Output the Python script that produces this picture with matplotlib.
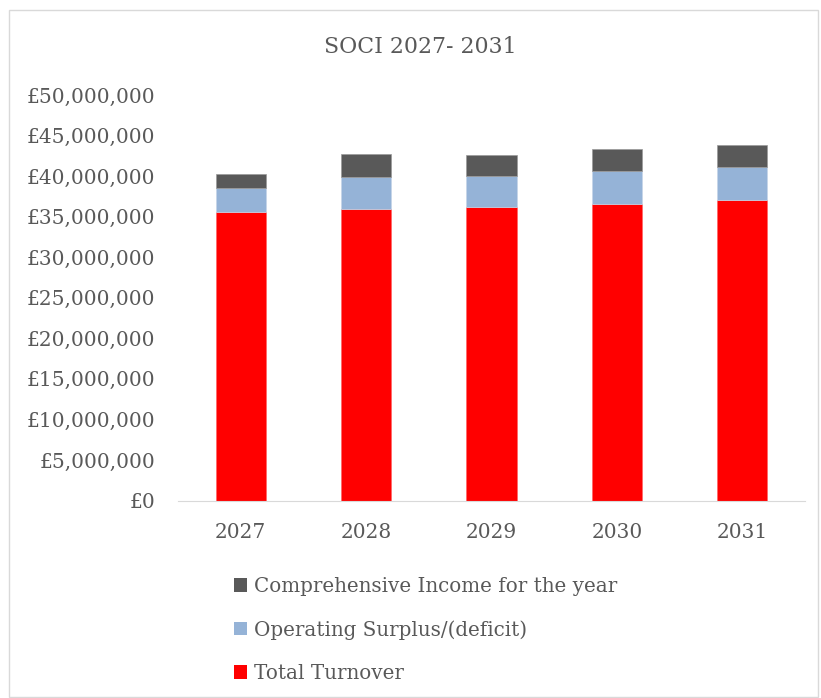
import matplotlib
matplotlib.use("Agg")
import matplotlib.pyplot as plt
from matplotlib.patches import Patch, Rectangle
from matplotlib.ticker import FuncFormatter

years = ["2027", "2028", "2029", "2030", "2031"]
total_turnover = [35.57e6, 35.90e6, 36.23e6, 36.60e6, 37.02e6]
operating_surplus = [3.00e6, 4.03e6, 3.82e6, 3.99e6, 4.10e6]
comprehensive_income = [1.65e6, 2.76e6, 2.55e6, 2.75e6, 2.68e6]

RED = "#FF0000"
BLUE = "#95B3D7"
DARK = "#595959"
TEXT = "#595959"

plt.rcParams["font.family"] = ["DejaVu Serif"]

fig = plt.figure(figsize=(8.21, 6.98), dpi=100)
fig.patches.append(Rectangle((9 / 821, 0.002), 0.985, 1 - 10 / 698 - 0.002,
                             transform=fig.transFigure, fill=False,
                             edgecolor="#D9D9D9", linewidth=1))

ax = fig.add_axes([178 / 821, 1 - 500.5 / 698, 627 / 821, 405.5 / 698])

x = range(len(years))
bottom2 = [a + b for a, b in zip(total_turnover, operating_surplus)]
ax.bar(x, total_turnover, width=0.4, color=RED, edgecolor="#FF6666", linewidth=0.5)
ax.bar(x, operating_surplus, width=0.4, bottom=total_turnover, color=BLUE,
       edgecolor="#C6D5E8", linewidth=0.5)
ax.bar(x, comprehensive_income, width=0.4, bottom=bottom2, color=DARK,
       edgecolor="#9A9A9A", linewidth=0.5)

ax.set_xlim(-0.5, len(years) - 0.5)
ax.set_ylim(0, 50e6)
ax.set_yticks([i * 5e6 for i in range(11)])
ax.yaxis.set_major_formatter(FuncFormatter(lambda v, p: f"£{v:,.0f}"))
ax.set_xticks(list(x))
ax.set_xticklabels(years)

for s in ["top", "right", "left"]:
    ax.spines[s].set_visible(False)
ax.spines["bottom"].set_color("#D9D9D9")
ax.tick_params(axis="both", length=0, labelsize=14.5, colors=TEXT)
ax.tick_params(axis="x", pad=16)
ax.tick_params(axis="y", pad=16.5)

fig.text(420 / 821, 1 - 47 / 698, "SOCI 2027- 2031", ha="center", va="center",
         fontsize=15.8, color=TEXT)

handles = [Patch(facecolor=DARK), Patch(facecolor=BLUE), Patch(facecolor=RED)]
labels = ["Comprehensive Income for the year", "Operating Surplus/(deficit)", "Total Turnover"]
fig.legend(handles, labels, loc="upper left", bbox_to_anchor=(216 / 821, 1 - 559 / 698),
           frameon=False, fontsize=14.3, labelcolor=TEXT, handlelength=0.65,
           handleheight=0.65, handletextpad=0.35, labelspacing=1.22)

fig.savefig("out.png", dpi=100)
plt.close(fig)
